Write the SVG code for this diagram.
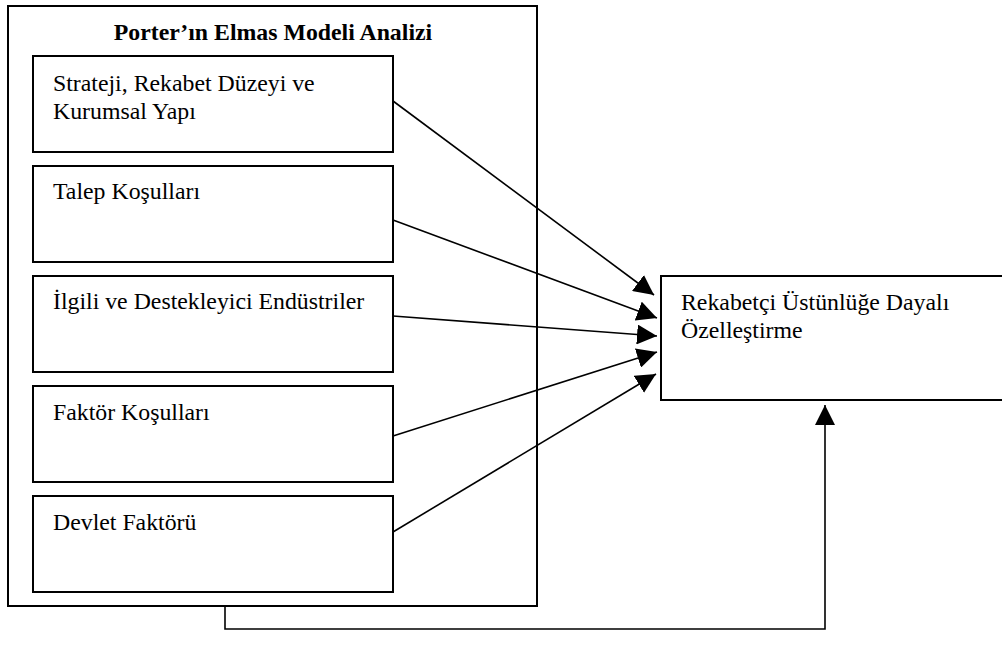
<svg xmlns="http://www.w3.org/2000/svg" width="1002" height="655" viewBox="0 0 1002 655">
<style>
.box{fill:#fff;stroke:#000;stroke-width:2}
.lbl{font-family:"Liberation Serif","Times New Roman",serif;font-size:23.8px;fill:#000}
.title{font-family:"Liberation Serif","Times New Roman",serif;font-size:23.8px;font-weight:bold;fill:#000}
.con{fill:none;stroke:#000;stroke-width:1.6}
</style>
<defs>
<marker id="ah" markerUnits="userSpaceOnUse" markerWidth="20" markerHeight="20" refX="20" refY="10" orient="auto" viewBox="0 0 20 20">
<path d="M0,0 L20,10 L0,20 z" fill="#000"/>
</marker>
</defs>
<rect width="1002" height="655" fill="#fff"/>
<g id="outer">
<rect class="box" x="8" y="6" width="529" height="600"/>
<text class="title" x="273" y="40" text-anchor="middle">Porter’ın Elmas Modeli Analizi</text>
</g>
<g id="n1">
<rect class="box" x="33" y="56" width="360" height="96"/>
<text class="lbl" x="53" y="91">Strateji, Rekabet Düzeyi ve</text>
<text class="lbl" x="53" y="119">Kurumsal Yapı</text>
</g>
<g id="n2">
<rect class="box" x="33" y="166" width="360" height="96"/>
<text class="lbl" x="53" y="199">Talep Koşulları</text>
</g>
<g id="n3">
<rect class="box" x="33" y="276" width="360" height="96"/>
<text class="lbl" x="53" y="309">İlgili ve Destekleyici Endüstriler</text>
</g>
<g id="n4">
<rect class="box" x="33" y="386" width="360" height="96"/>
<text class="lbl" x="53" y="420">Faktör Koşulları</text>
</g>
<g id="n5">
<rect class="box" x="33" y="496" width="360" height="96"/>
<text class="lbl" x="53" y="530">Devlet Faktörü</text>
</g>
<g id="target">
<rect class="box" x="661" y="276" width="345" height="124"/>
<text class="lbl" x="681" y="310">Rekabetçi Üstünlüğe Dayalı</text>
<text class="lbl" x="681" y="338">Özelleştirme</text>
</g>
<g id="connectors">
<line class="con" x1="393" y1="101" x2="654" y2="295" marker-end="url(#ah)"/>
<line class="con" x1="393" y1="220" x2="657" y2="318" marker-end="url(#ah)"/>
<line class="con" x1="393" y1="316" x2="657" y2="336" marker-end="url(#ah)"/>
<line class="con" x1="393" y1="436" x2="657" y2="352" marker-end="url(#ah)"/>
<line class="con" x1="393" y1="532" x2="656" y2="374" marker-end="url(#ah)"/>
<polyline class="con" points="225,606 225,629 825,629 825,405" marker-end="url(#ah)"/>
</g>
</svg>
